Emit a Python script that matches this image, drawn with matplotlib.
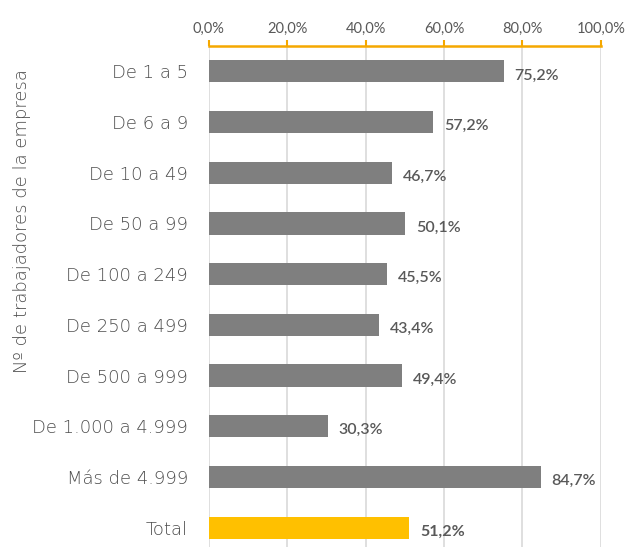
import numpy as np
import matplotlib.pyplot as plt

categorias = ["De 1 a 5", "De 6 a 9", "De 10 a 49", "De 50 a 99", "De 100 a 249",
              "De 250 a 499", "De 500 a 999", "De 1.000 a 4.999", "Más de 4.999", "Total"]
valores = [75.2, 57.2, 46.7, 50.1, 45.5, 43.4, 49.4, 30.3, 84.7, 51.2]
ticks_x = [0, 20, 40, 60, 80, 100]

colores = ["#7f7f7f"] * (len(valores) - 1) + ["#ffc000"]

fig = plt.figure(figsize=(6.29, 5.47), dpi=100)
ax = fig.add_axes([0.332, 0.0, 0.623, 0.916])

y = np.arange(len(categorias))
ax.barh(y, valores, height=0.44, color=colores, zorder=3)

for i, v in enumerate(valores):
    txt = f"{v:.1f}%".replace(".", ",")
    ax.text(v + 2.8, i + 0.08, txt, va="center", ha="left", fontsize=11.5,
            color="#595959", fontweight="bold" if i == len(valores) - 1 else "semibold",
            family="Lato")

ax.set_xlim(0, 100)
ax.set_ylim(9.38, -0.5)
ax.set_xticks(ticks_x)
ax.set_xticklabels([f"{t:.1f}%".replace(".", ",") for t in ticks_x],
                   fontsize=10.5, color="#595959", family="Lato")
ax.xaxis.tick_top()
ax.tick_params(axis="x", colors="#f5a800", length=4, width=1.5, pad=3, labelcolor="#595959")
ax.set_yticks(y)
ax.set_yticklabels(categorias, fontsize=13, color="#4d4d4d", family="DejaVu Sans",
                   fontweight="light")
ax.tick_params(axis="y", length=0, pad=15)

ax.grid(axis="x", color="#d9d9d9", linewidth=1.2, zorder=0)
for s in ["right", "bottom", "left"]:
    ax.spines[s].set_visible(False)
ax.spines["top"].set_color("#f5a800")
ax.spines["top"].set_linewidth(1.8)

fig.text(0.035, 0.595, "Nº de trabajadores de la empresa", rotation=90, va="center", ha="center",
         fontsize=13, color="#4d4d4d", family="DejaVu Sans", fontweight="light")

fig.savefig("out.png", dpi=100)
